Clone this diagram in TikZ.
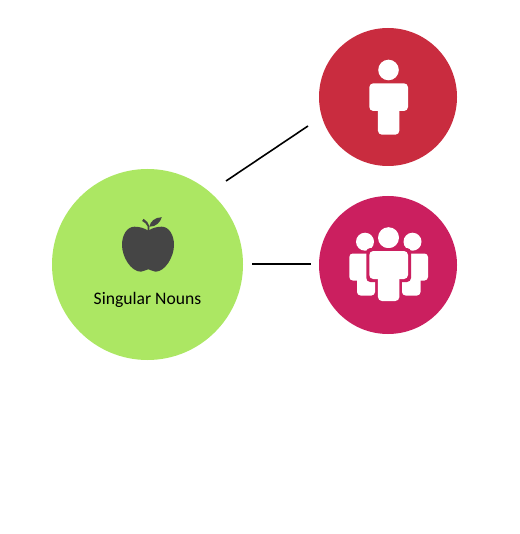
\documentclass[tikz,border=0pt]{standalone}
\usepackage{fontspec}
\setmainfont{Carlito}
\definecolor{leaf}{HTML}{ACE763}
\definecolor{redc}{HTML}{C92C3F}
\definecolor{pinkc}{HTML}{CB1F5F}
\definecolor{darkc}{HTML}{454545}
\tikzset{
  disc/.style={circle,inner sep=0pt,minimum size=#1,draw=none},
  conn/.style={draw=black,line width=1.6pt},
  icon/.style={fill=white,draw=none},
}
\newcommand{\personbody}[6]{% left right top armbottom bottom fill
  \pgfmathsetmacro{\mx}{(#1+#2)/2}
  \fill[#6,rounded corners=4pt] (#1,#3) rectangle (#2,#4);
  \fill[#6,rounded corners=4pt] (\mx-10.7,#3+4) rectangle (\mx+10.7,#5);
}
\begin{document}
\begin{tikzpicture}[x=1pt,y=-1pt]
\useasboundingbox (0,0) rectangle (519,534);
\node[disc=191pt,fill=leaf] (green) at (147.5,264.5) {};
\node[disc=138pt,fill=redc] (red) at (388,97) {};
\node[disc=138pt,fill=pinkc] (pink) at (388,265) {};
\node[font=\fontsize{17.6}{20}\selectfont,text=black] (label) at (147.5,299.5) {Singular Nouns};
\coordinate (a1) at (226,181);
\coordinate (a2) at (308,126);
\coordinate (b1) at (252,264);
\coordinate (b2) at (311,264);
\draw[conn] (a1) -- (a2);
\draw[conn] (b1) -- (b2);
% apple
\fill[darkc] (148.3,230.7)
  .. controls (152,228) and (157,226.7) .. (161.7,226.7)
  .. controls (169,226.7) and (174,235) .. (174,245)
  .. controls (174,257) and (165,271.7) .. (155.5,271.7)
  .. controls (152.5,271.7) and (150.5,269.3) .. (148.3,269.3)
  .. controls (146,269.3) and (144,271.7) .. (141,271.7)
  .. controls (131,271.7) and (122,257) .. (122,245)
  .. controls (122,235) and (127,226.7) .. (134.5,226.7)
  .. controls (139,226.7) and (144.5,228) .. (148.3,230.7) -- cycle;
\fill[darkc] (149.3,226.7) .. controls (150.5,221) and (155,217.5) .. (161.8,217.2)
  .. controls (160.5,222) and (156,227) .. (149.3,226.7) -- cycle;
\fill[darkc] (147.6,231) -- (147.6,226.5) .. controls (146.5,224) and (145,222.5) .. (142.2,221)
  -- (143.5,218.8) .. controls (146.5,220.5) and (148.5,223) .. (149.3,226) -- (149.3,231) -- cycle;
% single person
\fill[icon] (388.5,70) circle[radius=10.3pt];
\personbody{369.3}{408}{83.3}{111}{134.7}{white}
% group
\fill[icon] (365,241.7) circle[radius=9pt];
\fill[icon] (412.5,241.7) circle[radius=9pt];
\fill[icon] (388.5,237.7) circle[radius=10.5pt];
\fill[white,rounded corners=3.5pt] (349.3,253.5) rectangle (375,280.5);
\fill[white,rounded corners=3.5pt] (357,256) rectangle (375,295.5);
\fill[white,rounded corners=3.5pt] (402,253.5) rectangle (428,280.5);
\fill[white,rounded corners=3.5pt] (402,256) rectangle (420.5,295.5);
\personbody{366.3}{411}{248}{282}{304}{pinkc}
\personbody{369.3}{408}{251}{279}{301}{white}
\end{tikzpicture}
\end{document}
